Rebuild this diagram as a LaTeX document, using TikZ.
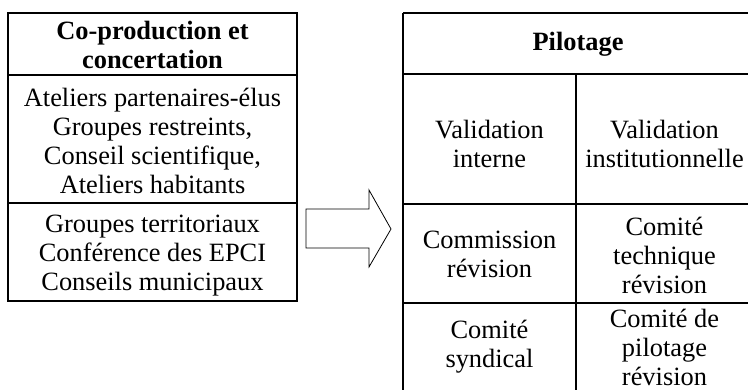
\documentclass[tikz,border=0pt]{standalone}
\usepackage{fontspec}
\setmainfont{Liberation Serif}
\tikzset{
  frame/.style={line width=1.5pt, draw=black},
  cell/.style={align=center, inner sep=0pt, font=\fontsize{26.4}{29}\selectfont},
  headcell/.style={cell, font=\fontsize{26.4}{29}\selectfont\bfseries},
  blockarrow/.style={draw=black, line width=0.8pt, fill=white, line join=miter}
}
\begin{document}
\begin{tikzpicture}[x=1pt,y=-1pt]
\useasboundingbox (0,0) rectangle (748,389);
\clip (0,0) rectangle (748,389);
% left table
\draw[frame] (8,13) rectangle (297,301);
\draw[frame] (8,75) -- (297,75);
\draw[frame] (8,203) -- (297,203);
\node[headcell] (lh) at (152.5,45) {Co-production et\\concertation};
\node[cell] (l1) at (152.5,141) {Ateliers partenaires-élus\\Groupes restreints,\\Conseil scientifique,\\Ateliers habitants};
\node[cell] (l2) at (152.5,256) {Groupes territoriaux\\Conférence des EPCI\\Conseils municipaux};
% arrow
\draw[blockarrow] (306,209) -- (369,209) -- (369,190) -- (391,229) -- (369,267) -- (369,248) -- (306,248) -- cycle;
% right table
\draw[frame] (403,13) -- (753,13);
\draw[frame] (403,13) -- (403,392);
\draw[frame] (753,13) -- (753,392);
\draw[frame] (403,74) -- (753,74);
\draw[frame] (403,204) -- (753,204);
\draw[frame] (403,303) -- (753,303);
\draw[frame] (403,392) -- (753,392);
\draw[frame] (576,74) -- (576,392);
\node[headcell] (rh) at (578,44) {Pilotage};
\node[cell] (r11) at (489.5,144) {Validation\\interne};
\node[cell] (r12) at (664.5,144) {Validation\\institutionnelle};
\node[cell] (r21) at (489.5,254) {Commission\\révision};
\node[cell] (r22) at (664.5,255) {Comité\\technique\\révision};
\node[cell] (r31) at (489.5,347) {Comité\\syndical};
\node[cell] (r32) at (664.5,347) {Comité de\\pilotage\\révision};
\end{tikzpicture}
\end{document}
